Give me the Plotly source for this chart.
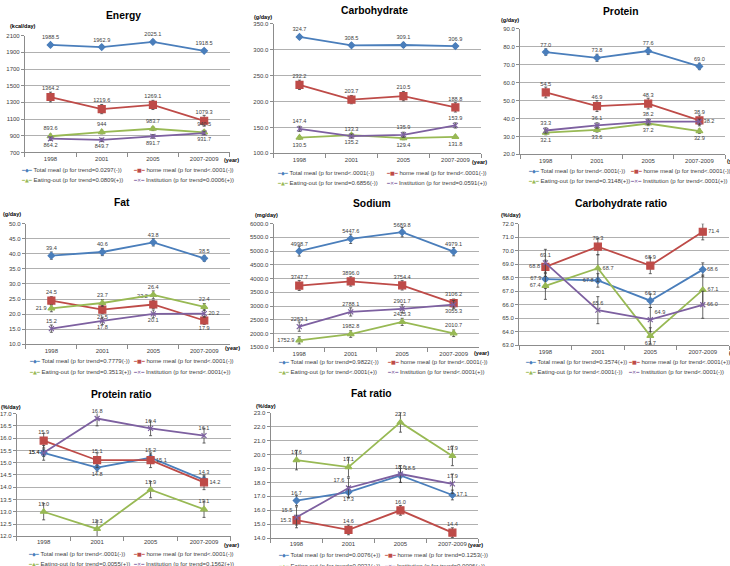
import plotly.graph_objects as go

W, H = 730, 566
years = ["1998", "2001", "2005", "2007-2009"]
series = ["Total meal", "home meal", "Eating-out", "Institution"]

# ---- Energy (kcal/day)
energy_total = [1988.5, 1962.9, 2025.1, 1918.5]
energy_home = [1364.2, 1219.6, 1269.1, 1079.3]
energy_out = [893.6, 944, 983.7, 940.5]
energy_inst = [864.2, 849.7, 891.7, 931.7]
energy_err = [[20, 20, 22, 20], [58, 55, 55, 65], [25, 22, 22, 25], [20, 20, 22, 22]]
energy_p = ["=0.0297(-)", "<.0001(-)", "=0.0809(+)", "=0.0006(+)"]

# ---- Carbohydrate (g/day)
carb_total = [324.7, 308.5, 309.1, 306.9]
carb_home = [232.2, 203.7, 210.5, 188.8]
carb_out = [130.5, 135.2, 129.4, 131.8]
carb_inst = [147.4, 133.3, 135.9, 153.9]
carb_err = [[4, 4, 5, 4], [9, 8, 9, 9], [3, 3, 3, 3], [5, 4, 5, 5]]
carb_p = ["<.0001(-)", "<.0001(-)", "=0.6856(-)", "=0.0591(+)"]

# ---- Protein (g/day)
prot_total = [77.0, 73.8, 77.6, 69.0]
prot_home = [54.5, 46.9, 48.3, 38.9]
prot_out = [32.1, 33.6, 37.2, 32.9]
prot_inst = [33.3, 36.1, 38.2, 38.2]
prot_err = [[1.8, 2, 2, 1.8], [3, 3, 3, 3], [1.2, 1.2, 1.2, 1.2], [1.5, 1.5, 1.5, 1.5]]
prot_p = ["<.0001(-)", "<.0001(-)", "=0.3148(+)", "<.0001(+)"]

# ---- Fat (g/day)
fat_total = [39.4, 40.6, 43.8, 38.5]
fat_home = [24.5, 21.5, 23.2, 17.9]
fat_out = [21.9, 23.7, 26.4, 22.4]
fat_inst = [15.2, 17.8, 20.1, 20.2]
fat_err = [[1.2, 1.2, 1.2, 1.0], [1.3, 1.3, 1.3, 1.3], [1.1, 1.1, 1.3, 1.1], [1.2, 1.2, 1.3, 1.2]]
fat_p = ["=0.7779(-)", "<.0001(-)", "=0.3513(+)", "<.0001(+)"]

# ---- Sodium (mg/day)
na_total = [4998.7, 5447.6, 5689.8, 4979.1]
na_home = [3747.7, 3896.0, 3754.4, 3106.2]
na_out = [1752.9, 1982.8, 2425.3, 2010.7]
na_inst = [2253.1, 2788.1, 2901.7, 3055.3]
na_err = [[180, 170, 170, 150], [180, 170, 170, 150], [130, 120, 130, 120], [170, 150, 150, 150]]
na_p = ["=0.9822(-)", "<.0001(-)", "<.0001(+)", "<.0001(+)"]

# ---- Carbohydrate ratio (%/day)
cr_total = [67.9, 67.8, 66.3, 68.6]
cr_home = [68.8, 70.3, 68.9, 71.4]
cr_out = [67.4, 68.7, 63.7, 67.1]
cr_inst = [69.1, 65.6, 64.9, 66.0]
cr_err = [[0.7, 0.5, 0.5, 0.5], [0.5, 0.6, 0.6, 0.6], [1.0, 1.0, 0.6, 1.1], [1.0, 1.0, 0.9, 1.0]]
cr_p = ["=0.3574(+)", "<.0001(+)", "<.0001(-)", "<.0001(-)"]

# ---- Protein ratio (%/day)
pr_total = [15.4, 14.8, 15.2, 14.3]
pr_home = [15.9, 15.1, 15.1, 14.2]
pr_out = [13.0, 12.3, 13.9, 13.1]
pr_inst = [15.4, 16.8, 16.4, 16.1]
pr_err = [[0.15, 0.15, 0.15, 0.15], [0.3, 0.3, 0.3, 0.3], [0.33, 0.33, 0.33, 0.33], [0.3, 0.3, 0.3, 0.3]]
pr_p = ["<.0001(-)", "<.0001(-)", "=0.0055(+)", "=0.1562(+)"]

# ---- Fat ratio (%/day)
fr_total = [16.7, 17.3, 18.5, 17.1]
fr_home = [15.3, 14.6, 16.0, 14.4]
fr_out = [19.6, 19.1, 22.3, 19.9]
fr_inst = [15.5, 17.6, 18.6, 17.9]
fr_err = [[0.35, 0.4, 0.5, 0.35], [0.35, 0.35, 0.35, 0.35], [0.7, 0.7, 0.7, 0.7], [0.75, 0.7, 0.6, 0.7]]
fr_p = ["=0.0076(+)", "=0.1253(-)", "=0.0021(+)", "=0.0006(+)"]

# ---------------- styling / layout (not data) ----------------
COLORS = ["#4A7EBB", "#BE4B48", "#98B954", "#7D60A0"]
SYMBOLS = ["diamond", "square", "triangle-up", "x-thin-open"]
LEG_GLYPH = ["◆", "■", "▲", "✕"]
MSIZE = [5, 7, 6, 5]
FONT = "Liberation Sans"
TC, BC, MC, TP, RC = "top center", "bottom center", "middle left", "top left", "middle right"

panels = [
    dict(title="Energy", unit="(kcal/day)", data=[energy_total, energy_home, energy_out, energy_inst],
         err=energy_err, p=energy_p, rng=[700, 2100], dtick=200, fmt="d", lab="g",
         box=(21, 227, 33, 151), tpos=(120, 13), upos=(4, 23), ypos=(229, 159),
         leg=[(15, 169), (128, 169), (15, 179), (128, 179)],
         lpos=[[TC] * 4, [TC] * 4, [TC] * 4, [BC] * 4]),
    dict(title="Carbohydrate", unit="(g/day)", data=[carb_total, carb_home, carb_out, carb_inst],
         err=carb_err, p=carb_p, rng=[100, 350], dtick=50, fmt=".1f", lab=".1f",
         box=(271, 480, 21, 152), tpos=(373, 8), upos=(249, 14), ypos=(478, 161),
         leg=[(272, 172), (382, 172), (272, 182), (382, 182)],
         lpos=[[TC] * 4, [TC] * 4, [BC] * 4, [TC] * 4]),
    dict(title="Protein", unit="(g/day)", data=[prot_total, prot_home, prot_out, prot_inst],
         err=prot_err, p=prot_p, rng=[20, 90], dtick=10, fmt=".1f", lab=".1f",
         box=(519, 725, 26, 153), tpos=(620, 9), upos=(498, 17), ypos=(735, 160),
         leg=[(525, 170), (627, 170), (525, 180), (627, 180)],
         lpos=[[TC] * 4, [TC] * 4, [BC] * 4, [TC, TC, TC, RC]]),
    dict(title="Fat", unit="(g/day)", data=[fat_total, fat_home, fat_out, fat_inst],
         err=fat_err, p=fat_p, rng=[10, 50], dtick=5, fmt=".1f", lab=".1f",
         box=(22, 227, 223, 345), tpos=(119, 202), upos=(-3, 213), ypos=(230, 349),
         leg=[(23, 362), (128, 362), (23, 373), (128, 373)],
         lpos=[[TC] * 4, [TC, BC, TP, BC], [MC, TC, TC, TC], [TC, BC, BC, RC]]),
    dict(title="Sodium", unit="(mg/day)", data=[na_total, na_home, na_out, na_inst],
         err=na_err, p=na_p, rng=[1500, 6000], dtick=500, fmt=".1f", lab=".1f",
         box=(271, 478, 223, 348), tpos=(370, 203), upos=(250, 214), ypos=(480, 354),
         leg=[(273, 363), (383, 363), (273, 373), (383, 373)],
         lpos=[[TC] * 4, [TC] * 4, [MC, TC, TC, TC], [TC, TC, TC, BC]]),
    dict(title="Carbohydrate ratio", unit="(%/day)", data=[cr_total, cr_home, cr_out, cr_inst],
         err=cr_err, p=cr_p, rng=[63, 72], dtick=1, fmt=".1f", lab=".1f",
         box=(518, 729, 223, 346), tpos=(620, 203), upos=(498, 214), ypos=(737, 354),
         leg=[(522, 363), (625, 363), (522, 373), (625, 373)],
         lpos=[[MC, MC, TC, RC], [MC, TC, TC, RC], [MC, RC, BC, RC], [TC, TC, "top right", RC]]),
    dict(title="Protein ratio", unit="(%/day)", data=[pr_total, pr_home, pr_out, pr_inst],
         err=pr_err, p=pr_p, rng=[12, 17], dtick=0.5, fmt=".1f", lab=".1f",
         box=(13, 228, 415, 539), tpos=(118, 396), upos=(-5, 408), ypos=(229, 548),
         leg=[(22, 557), (128, 557), (22, 567), (128, 567)],
         lpos=[[MC, BC, TC, TC], [TC, TC, RC, RC], [TC] * 4, [MC, TC, TC, TC]]),
    dict(title="Fat ratio", unit="(%/day)", data=[fr_total, fr_home, fr_out, fr_inst],
         err=fr_err, p=fr_p, rng=[14, 23], dtick=1, fmt=".1f", lab=".1f",
         box=(268, 477, 414, 541), tpos=(370, 395), upos=(251, 407), ypos=(474, 548),
         leg=[(273, 558), (380, 558), (273, 569), (380, 569)],
         lpos=[[TC, BC, "top right", RC], [MC, TC, TC, TC], [TC] * 4, [TP, TP, TC, TC]]),
]


def px(x):
    return x / W


def py(y):
    return 1 - y / H


fig = go.Figure()
layout = dict(width=W, height=H, margin=dict(l=0, r=0, t=0, b=0),
              paper_bgcolor="white", plot_bgcolor="white", showlegend=False,
              font=dict(family=FONT, color="#404040", size=6), annotations=[])

for i, p in enumerate(panels):
    n = i + 1
    xa, ya = ("x", "y") if n == 1 else (f"x{n}", f"y{n}")
    xk, yk = ("xaxis", "yaxis") if n == 1 else (f"xaxis{n}", f"yaxis{n}")
    x0, x1, y0, y1 = p["box"]
    layout[xk] = dict(domain=[px(x0), px(x1)], anchor=ya, type="category", range=[-0.5, 3.5],
                      showline=True, linecolor="#8c8c8c", linewidth=1, ticks="outside",
                      tickson="boundaries", ticklen=4, tickcolor="#8c8c8c", showgrid=False,
                      tickfont=dict(size=6, color="#404040", family=FONT), fixedrange=True)
    layout[yk] = dict(domain=[py(y1), py(y0)], anchor=xa, range=p["rng"], dtick=p["dtick"],
                      tick0=p["rng"][0], tickformat=p["fmt"], showline=True,
                      linecolor="#8c8c8c", linewidth=1,
                      ticks="outside", ticklen=3, tickcolor="#8c8c8c", showgrid=True,
                      gridcolor="#b0b0b0", gridwidth=1, zeroline=False,
                      tickfont=dict(size=6, color="#404040", family=FONT), fixedrange=True)
    for s in range(4):
        vals = p["data"][s]
        txt = [format(v, p["lab"]) for v in vals]
        name = f"{series[s]} (p for trend{p['p'][s]})"
        fig.add_trace(go.Scatter(
            x=years, y=vals, xaxis=xa, yaxis=ya, mode="lines+markers+text",
            text=txt, textposition=p["lpos"][s],
            textfont=dict(size=5.6, color="#404040", family=FONT),
            line=dict(color=COLORS[s], width=1.8),
            marker=dict(symbol=SYMBOLS[s], size=MSIZE[s], color=COLORS[s],
                        line=dict(color=COLORS[s], width=1.2)),
            error_y=dict(type="data", array=p["err"][s], color="#404040", thickness=0.8, width=1.5),
            name=name, cliponaxis=False, hoverinfo="skip"))
        # legend entry (Excel-style compact key)
        lx, ly = p["leg"][s]
        key = (f'<span style="color:{COLORS[s]};font-family:DejaVu Sans;font-size:5px">'
               f'━{LEG_GLYPH[s]}━</span> {name}')
        layout["annotations"].append(dict(x=px(lx), y=py(ly), xref="paper", yref="paper",
                                          xanchor="left", yanchor="middle", text=key,
                                          showarrow=False,
                                          font=dict(size=6, color="#404040", family=FONT)))
    tx, ty = p["tpos"]
    layout["annotations"].append(dict(x=px(tx), y=py(ty), xref="paper", yref="paper",
                                      xanchor="center", yanchor="middle",
                                      text=f"<b>{p['title']}</b>", showarrow=False,
                                      font=dict(size=10.3, color="#000000", family=FONT)))
    ux, uy = p["upos"]
    layout["annotations"].append(dict(x=px(ux), y=py(uy), xref="paper", yref="paper",
                                      xanchor="left", yanchor="middle",
                                      text=f"<b>{p['unit']}</b>", showarrow=False,
                                      font=dict(size=5.5, color="#000000", family=FONT)))
    yx, yy = p["ypos"]
    layout["annotations"].append(dict(x=px(yx), y=py(yy), xref="paper", yref="paper",
                                      xanchor="center", yanchor="middle",
                                      text="<b>(year)</b>", showarrow=False,
                                      font=dict(size=5.5, color="#000000", family=FONT)))

fig.update_layout(**layout)
fig.write_html("out.html")
